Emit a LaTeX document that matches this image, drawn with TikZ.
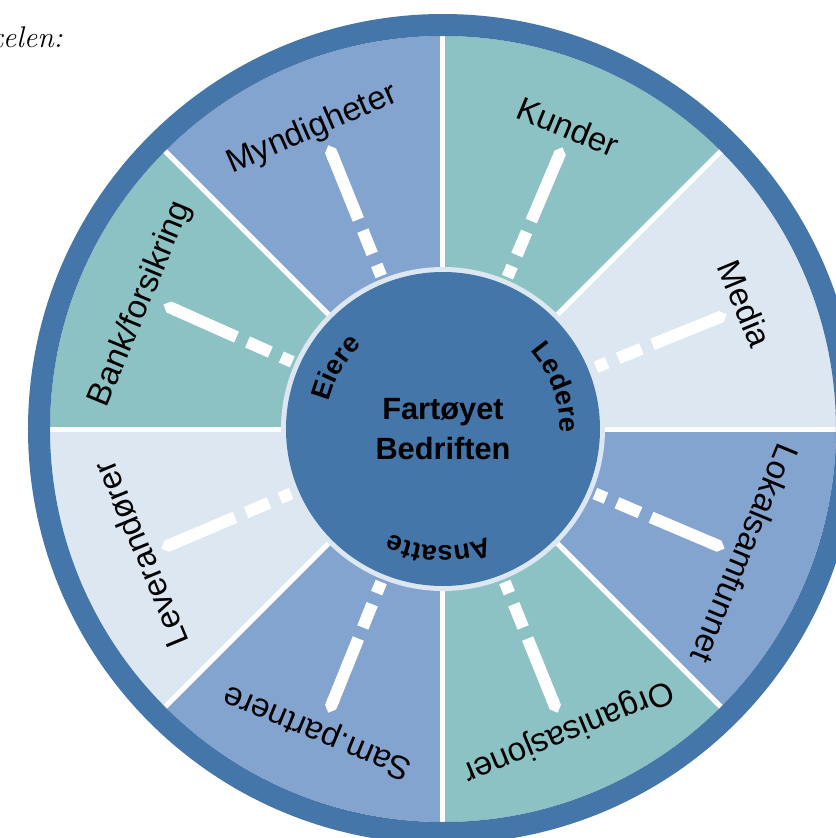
\documentclass[tikz,border=0pt]{standalone}
\usepackage{fontspec}
\setsansfont{Liberation Sans}
\usepackage{tikz}
\usetikzlibrary{arrows.meta,decorations.text}
\definecolor{ringblue}{HTML}{4576AA}
\definecolor{midblue}{HTML}{84A4D0}
\definecolor{sea}{HTML}{8CC2C3}
\definecolor{paleblue}{HTML}{DDE7F2}

\begin{document}
\begin{tikzpicture}[
  wedgeline/.style={white, line width=1mm},
  group/.style={font=\sffamily\fontsize{18.8}{22}\selectfont, inner sep=0pt},
  inner/.style={decorate, decoration={text along path, text align=center,
      text={|\sffamily\bfseries\fontsize{15.5}{18}\selectfont|#1}}},
  spoke/.style={white, line width=2.4mm,
      dash pattern=on 2.4mm off 2.4mm on 5mm off 2.4mm on 3cm, -{Triangle Cap[]}}
]
\clip (-8.86,-8.18) rectangle (7.86,8.58);

\node[font=\itshape\fontsize{17}{19}\selectfont, anchor=base east, inner sep=0pt] (caption) at (-7.6,7.64) {kelen:};

% sectors
\foreach \a/\c in {90/midblue,135/sea,180/paleblue,225/midblue,270/sea,315/midblue,0/paleblue,45/sea}
  \fill[\c] (0,0) -- (\a:7.86) arc[start angle=\a, end angle=\a+45, radius=7.86] -- cycle;
\foreach \a in {0,45,...,315}
  \draw[wedgeline] (\a:3) -- (\a:7.9);
\draw[ringblue, line width=4.4mm] (0,0) circle (8.08);

% centre
\fill[paleblue] (0,0) circle (3.24);
\fill[ringblue] (0,0) circle (3.14);
\node[font=\sffamily\bfseries\fontsize{17.5}{22.8}\selectfont, align=center] (firm) at (0,0) {Fartøyet\\Bedriften};
\path[inner=Eiere] (188:2.34) arc[start angle=188, end angle=112, radius=2.34];
\path[inner=Ledere] (60:2.34) arc[start angle=60, end angle=-20, radius=2.34];
\path[inner=Ansatte] (310:2.34) arc[start angle=310, end angle=226, radius=2.34];

% groups round the firm
\foreach \a/\n/\t in {113.5/myndigheter/Myndigheter, 67.5/kunder/Kunder, 22.5/media/Media,
    -22.5/lokal/Lokalsamfunnet, -67.5/org/Organisasjoner, 247.5/partner/Sam.partnere,
    202.5/lev/Leverandører, 157.5/bank/{Bank/forsikring}}
  \node[group, rotate=\a-90] (\n) at (\a:6.54) {\t};

% spokes
\foreach \a [count=\i] in {112,67,22,-23,-68,248,203,156} {
  \coordinate (s\i) at (\a:3.3);
  \coordinate (t\i) at (\a:6.12);
  \draw[spoke] (s\i) -- (t\i);
}
\end{tikzpicture}
\end{document}
